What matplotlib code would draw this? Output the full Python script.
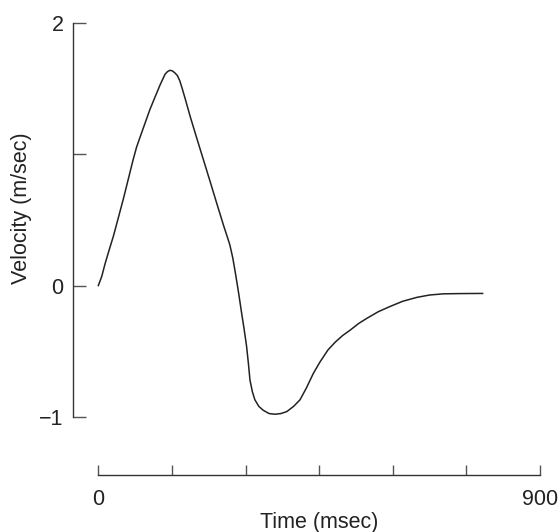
import matplotlib.pyplot as plt

# time (msec) and velocity (m/sec)
time_ms = [0, 7, 14, 22, 31, 41, 51, 61, 71, 78, 85, 95, 105, 116, 126, 136, 141, 146, 151,
           156, 161, 166, 171, 178, 187, 200, 214, 228, 241, 255, 262, 268, 274, 280, 286,
           292, 297, 302, 306, 309, 314, 319, 327, 336, 348, 360, 372, 384, 398, 411,
           424, 438, 452, 468, 483, 498, 513, 530, 547, 570, 594, 620, 649, 675, 703,
           740, 783]
velocity = [0.0, 0.07, 0.17, 0.27, 0.38, 0.52, 0.66, 0.81, 0.96, 1.055, 1.13, 1.235, 1.34,
            1.44, 1.53, 1.61, 1.63, 1.64, 1.635, 1.62, 1.60, 1.56, 1.50, 1.41, 1.29, 1.13,
            0.96, 0.79, 0.63, 0.46, 0.38, 0.31, 0.21, 0.08, -0.06, -0.21, -0.33, -0.46,
            -0.60, -0.72, -0.81, -0.87, -0.92, -0.95, -0.975, -0.98, -0.975, -0.96, -0.92,
            -0.87, -0.78, -0.67, -0.58, -0.49, -0.43, -0.38, -0.34, -0.29, -0.25, -0.20,
            -0.16, -0.12, -0.09, -0.072, -0.063, -0.061, -0.06]

xticks = [0, 150, 300, 450, 600, 750, 900]
xtick_labels = ["0", "", "", "", "", "", "900"]
yticks = [-1, 0, 1, 2]
ytick_labels = ["\u22121", "0", "", "2"]

plt.rcParams['font.family'] = ['Liberation Sans', 'DejaVu Sans']

W, H = 560, 532
fig = plt.figure(figsize=(W / 100, H / 100), dpi=100)
# axes box in pixels: left spine at x=73, bottom spine at y=475, top at y=23, right at x=540
ax = fig.add_axes([73.3 / W, (H - 475) / H, (540 - 73.3) / W, (475 - 23) / H])

xlim = (-51, 900)
ylim = (-1.443, 2)
ax.set_xlim(*xlim)
ax.set_ylim(*ylim)

ax.plot(time_ms, velocity, color="#222222", lw=1.1, solid_joinstyle="round")

for s in ["top", "right"]:
    ax.spines[s].set_visible(False)
ax.spines["left"].set_bounds(-1, 2)
ax.spines["bottom"].set_bounds(0, 900)
for s in ["left", "bottom"]:
    ax.spines[s].set_color("#333333")
    ax.spines[s].set_linewidth(1.0)

ax.set_xticks(xticks)
ax.set_xticklabels(xtick_labels)
ax.set_yticks(yticks)
ax.set_yticklabels(ytick_labels)
ax.tick_params(axis="x", direction="in", length=7, width=1, color="#555555",
               pad=10, labelsize=15.5, labelcolor="#222222")
ax.tick_params(axis="y", direction="in", length=9.5, width=1, color="#555555",
               pad=7, labelsize=15.5, labelcolor="#222222")

ax.set_xlabel("Time (msec)", fontsize=15.5, color="#222222")
ax.set_ylabel("Velocity (m/sec)", fontsize=15.5, color="#222222")
ax.xaxis.set_label_coords((450 - xlim[0]) / (xlim[1] - xlim[0]), -0.082)
ax.yaxis.set_label_coords(-0.088, (0.59 - ylim[0]) / (ylim[1] - ylim[0]))

fig.savefig("out.png", dpi=100)
